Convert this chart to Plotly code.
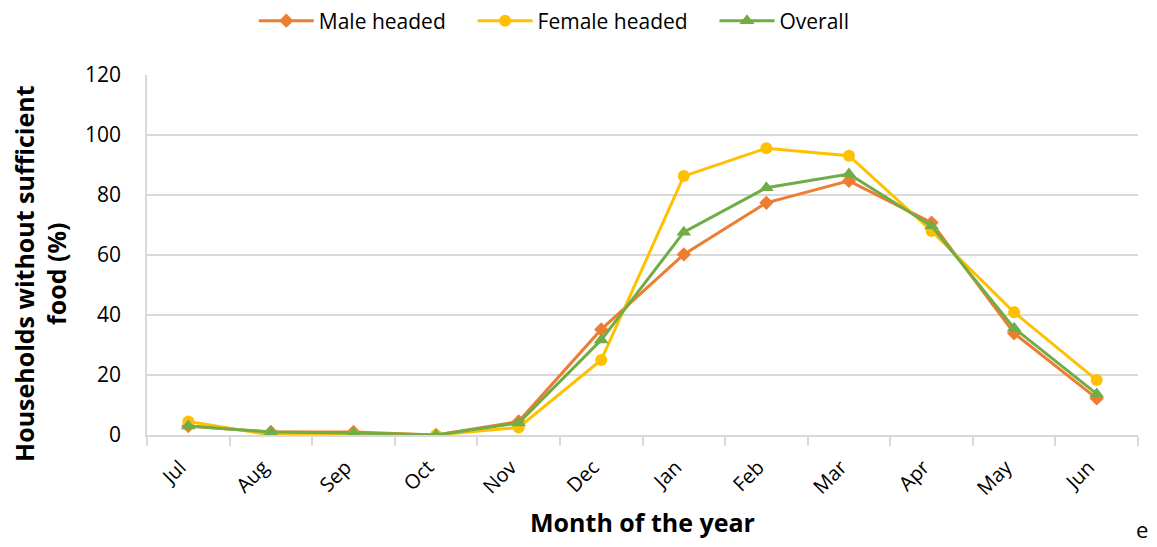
import plotly.graph_objects as go

months = ["Jul", "Aug", "Sep", "Oct", "Nov", "Dec", "Jan", "Feb", "Mar", "Apr", "May", "Jun"]
male_headed = [3.0, 1.0, 1.0, 0.0, 4.5, 35.2, 60.2, 77.4, 84.7, 70.8, 33.9, 12.2]
female_headed = [4.5, 0.0, 0.0, 0.0, 2.5, 25.0, 86.3, 95.6, 93.1, 68.0, 40.9, 18.3]
overall = [3.0, 1.0, 0.7, 0.0, 4.0, 31.7, 67.6, 82.4, 87.0, 69.7, 35.6, 13.7]

x_pos = list(range(len(months)))
NB = "\u00a0\u00a0\u00a0\u00a0"

FONT = "Open Sans"
fig = go.Figure()
fig.add_trace(go.Scatter(x=x_pos, y=male_headed, name="Male headed" + NB, mode="lines+markers",
                         line=dict(color="#ED7D31", width=3),
                         marker=dict(symbol="diamond", size=11, color="#ED7D31")))
fig.add_trace(go.Scatter(x=x_pos, y=female_headed, name="Female headed" + NB, mode="lines+markers",
                         line=dict(color="#FFC000", width=3),
                         marker=dict(symbol="circle", size=12, color="#FFC000")))
fig.add_trace(go.Scatter(x=x_pos, y=overall, name="Overall", mode="lines+markers",
                         line=dict(color="#70AD47", width=3),
                         marker=dict(symbol="triangle-up", size=13, color="#70AD47")))

fig.update_layout(
    width=1149, height=539,
    margin=dict(l=139, r=19, t=67, b=112, autoexpand=False),
    plot_bgcolor="white", paper_bgcolor="white",
    font=dict(family=FONT, color="#000000", size=18),
    showlegend=True,
    legend=dict(orientation="h", x=0.411, xanchor="center", y=1.15, yanchor="middle",
                font=dict(size=21, family=FONT), traceorder="normal", itemwidth=55),
    xaxis=dict(range=[-0.5, len(months) - 0.5], tickvals=x_pos, ticktext=months,
               showgrid=False, showline=True, linecolor="#D9D9D9", linewidth=1.5,
               ticks="", zeroline=False,
               minor=dict(ticks="outside", tick0=-0.5, dtick=1, ticklen=9, tickcolor="#D9D9D9",
                          tickwidth=1.5, showgrid=False),
               tickangle=-45, tickfont=dict(size=20), ticklabelstandoff=11, ticklabelshift=-8,
               title=dict(text="<b>Month of the year</b>", font=dict(size=25), standoff=15)),
    yaxis=dict(range=[0, 120], dtick=20, showgrid=True, gridcolor="#D9D9D9", gridwidth=1.5,
               showline=True, linecolor="#D9D9D9", linewidth=1.5, zeroline=False,
               ticks="", tickfont=dict(size=21), ticklabelstandoff=20),
)
fig.add_annotation(text="<b>Households without sufficient<br>food (%)</b>", textangle=-90,
                   xref="paper", yref="paper", x=-0.108, y=0.45, xanchor="center", yanchor="middle",
                   showarrow=False, font=dict(size=25, family=FONT))
fig.add_annotation(text="e", xref="paper", yref="paper", x=1.004, y=-0.262, xanchor="center", yanchor="middle",
                   showarrow=False, font=dict(size=22, family=FONT), borderpad=0)
fig.write_html("out.html")
